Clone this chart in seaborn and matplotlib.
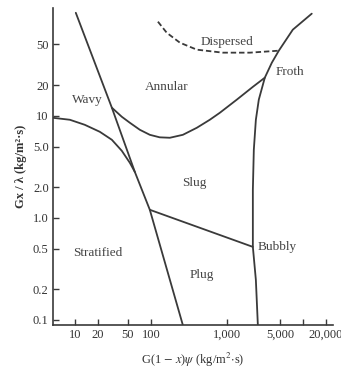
import matplotlib
matplotlib.use("Agg")
import matplotlib.pyplot as plt
import seaborn as sns

# boundary curves (x = G(1-x)psi, y = Gx/lambda)
strat_x = [5.1, 8.6, 13.5, 21.3, 30.7, 41.5, 53, 61.6]
strat_y = [9.56, 9.14, 8.16, 6.97, 5.82, 4.54, 3.46, 2.82]

steep_x = [10.3, 30.7, 61.6, 97, 264]
steep_y = [102, 12, 2.82, 1.2, 0.089]

annular_x = [30.7, 41.5, 53, 71.7, 97, 131, 178, 264, 403, 597, 809, 1355, 2200, 3160]
annular_y = [12, 9.78, 8.54, 7.29, 6.51, 6.15, 6.09, 6.51, 7.63, 9.14, 10.7, 14.4, 19.2, 23.6]

dispersed_x = [124, 162, 241, 403, 886, 2008, 4830]
dispersed_y = [83.5, 65, 52, 44.4, 41.5, 41.5, 43.4]

froth_x = [2560, 2410, 2200, 2200, 2265, 2410, 2635, 3160, 3910, 4830, 7380, 13100]
froth_y = [0.089, 0.247, 0.52, 1.88, 4.64, 9.14, 14.4, 23.6, 33.1, 43.4, 69.7, 100]

bubbly_x = [97, 2200]
bubbly_y = [1.2, 0.52]

region_names = ["Dispersed", "Froth", "Annular", "Wavy", "Slug", "Stratified", "Bubbly", "Plug"]
region_x = [1000, 6740, 162, 14.8, 379, 20, 4550, 467]
region_y = [53, 27, 19.2, 14.4, 2.2, 0.45, 0.52, 0.276]

xticks = [10, 20, 50, 100, 1000, 5000, 10000, 20000]
xtick_labels = ["10", "20", "50", "100", "1,000", "5,000", "", "20,000"]
yticks = [0.1, 0.2, 0.5, 1.0, 2.0, 5.0, 10, 20, 50]
ytick_labels = ["0.1", "0.2", "0.5", "1.0", "2.0", "5.0", "10", "20", "50"]

sns.set_style("ticks")
plt.rcParams["font.family"] = ["Liberation Serif", "DejaVu Serif"]
plt.rcParams["mathtext.fontset"] = "stix"

ink = "#3a3a3a"

fig = plt.figure(figsize=(3.41, 3.74), dpi=100)
ax = fig.add_axes([0.155, 0.131, 0.821, 0.848])

curves = [(strat_x, strat_y), (steep_x, steep_y), (annular_x, annular_y),
          (froth_x, froth_y), (bubbly_x, bubbly_y)]
for cx, cy in curves:
    sns.lineplot(x=cx, y=cy, ax=ax, sort=False, estimator=None, color=ink, lw=1.3)
sns.lineplot(x=dispersed_x, y=dispersed_y, ax=ax, sort=False, estimator=None,
             color=ink, lw=1.3, linestyle=(0, (3, 1.6)))

for name, tx, ty in zip(region_names, region_x, region_y):
    ax.text(tx, ty, name, ha="center", va="center", fontsize=9.5, color="#444444")

ax.set_xscale("log")
ax.set_yscale("log")
ax.set_xlim(5.14, 24800)
ax.set_ylim(0.0893, 114)
ax.set_xticks(xticks, xtick_labels)
ax.set_yticks(yticks, ytick_labels)
ax.minorticks_off()
ax.tick_params(direction="in", length=4, width=1, color=ink, labelcolor="#333333",
               labelsize=9, pad=3)
for side in ["left", "bottom"]:
    ax.spines[side].set_color(ink)
    ax.spines[side].set_linewidth(1.2)
sns.despine(ax=ax)

ax.set_xlabel(r"G(1 $-$ $x$)$\psi$ (kg/m$^2$$\cdot$s)", fontsize=9, color="#333333", labelpad=7)
ax.set_ylabel("Gx / λ (kg/m²·s)", fontsize=9, fontweight="bold", color="#333333", labelpad=4)

fig.savefig("out.png", dpi=100)
